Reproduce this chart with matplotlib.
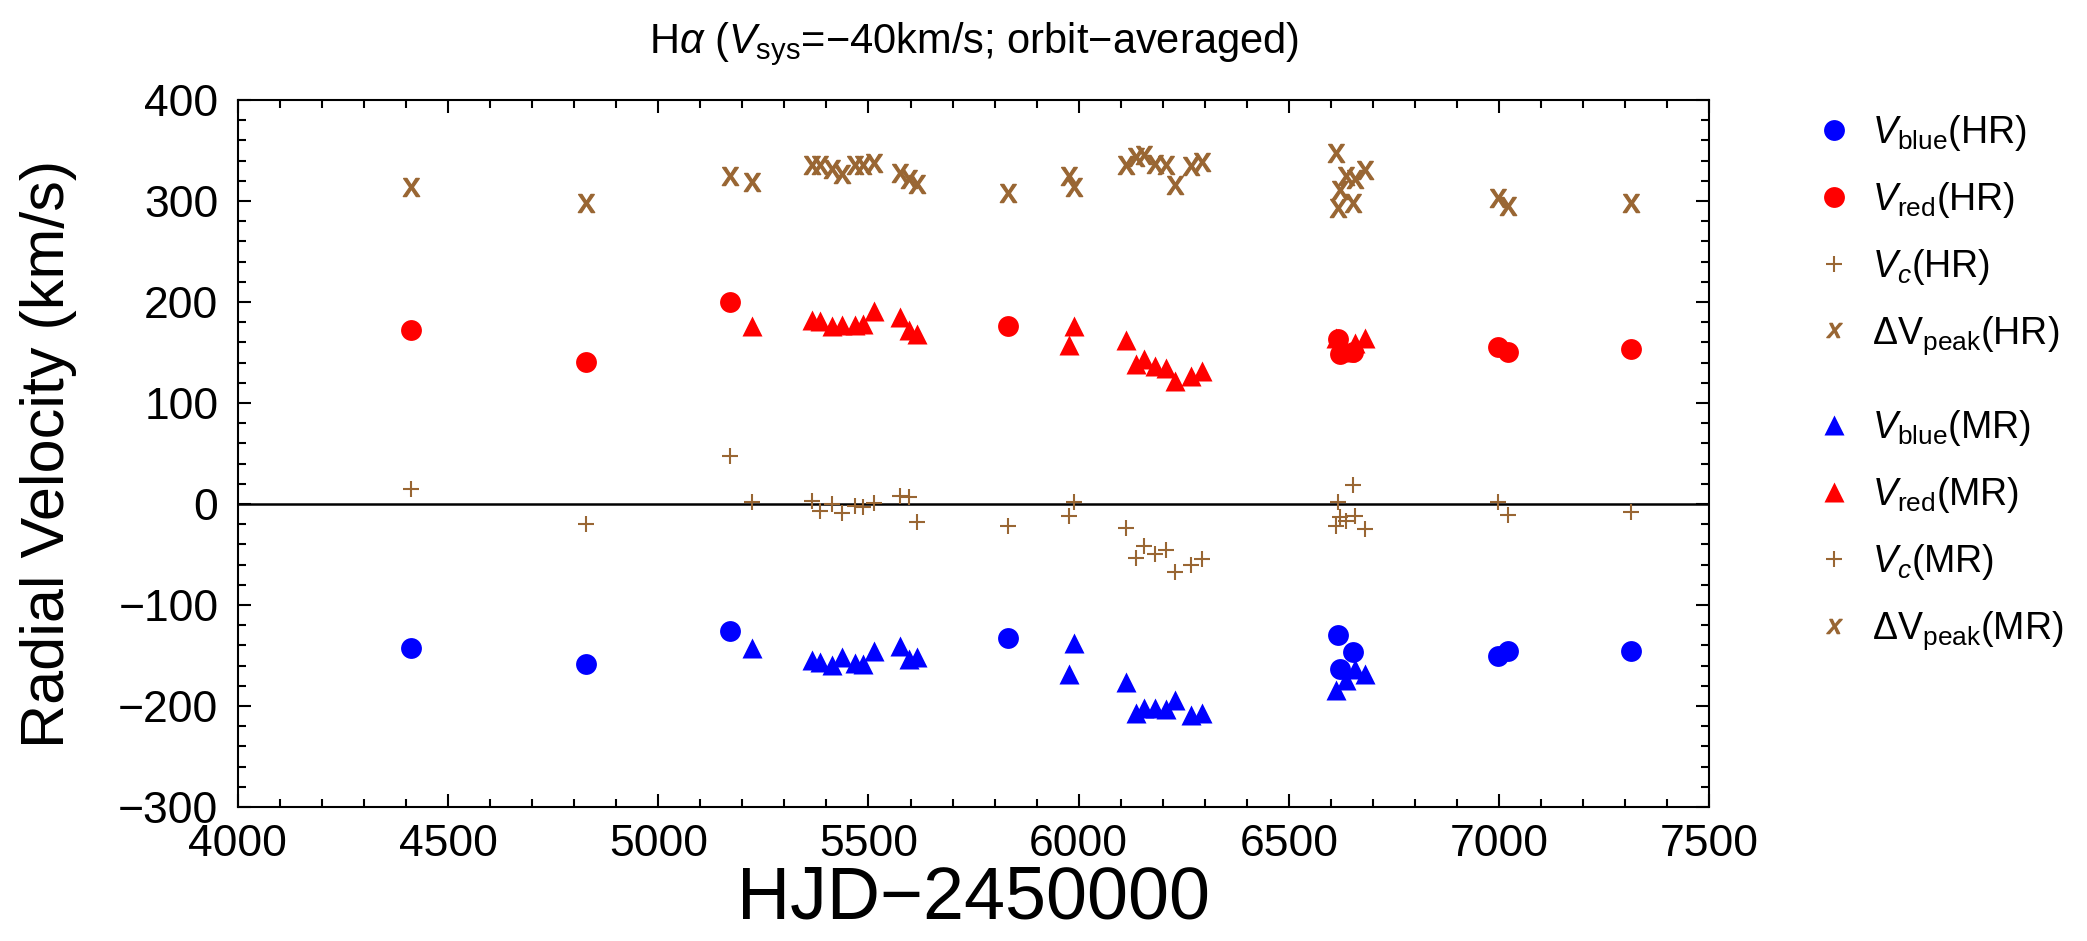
import matplotlib
matplotlib.use("Agg")
import matplotlib.pyplot as plt
from matplotlib.lines import Line2D
from matplotlib.ticker import MultipleLocator

plt.rcParams['font.family'] = ['Liberation Sans', 'DejaVu Sans']
plt.rcParams['mathtext.fontset'] = 'custom'
plt.rcParams['mathtext.rm'] = 'Liberation Sans'
plt.rcParams['mathtext.it'] = 'Liberation Sans:italic'
plt.rcParams['mathtext.bf'] = 'Liberation Sans:bold'

# HR spectra (circles)
jd_hr = [4411, 4828, 5170, 5832, 6617, 6621, 6653, 6997, 7021, 7315]
vblue_hr = [-143, -158, -126, -133, -130, -163, -147, -150, -146, -146]
vred_hr = [172, 141, 200, 176, 163, 149, 151, 155, 151, 153]
vc_hr = [15, -20, 48, -22, 2, -13, 19, 2, -11, -8]
dv_hr = [314, 298, 325, 308, 293, 311, 298, 303, 295, 298]

# MR spectra (triangles)
jd_mr = [5223, 5366, 5384, 5413, 5437, 5469, 5488, 5512, 5576, 5596, 5616,
         5977, 5989, 6112, 6136, 6156, 6181, 6208, 6230, 6267, 6293,
         6611, 6637, 6658, 6682]
vblue_mr = [-143, -154, -156, -159, -151, -157, -158, -146, -141, -153, -151,
            -168, -138, -176, -207, -202, -202, -203, -194, -209, -207,
            -184, -174, -163, -168]
vred_mr = [176, 182, 181, 176, 177, 177, 178, 191, 185, 172, 168,
           157, 176, 162, 139, 144, 137, 135, 122, 127, 132,
           164, 151, 159, 164]
vc_mr = [2, 3, -7, 0, -9, -2, -3, 1, 8, 7, -18,
         -12, 2, -24, -53, -42, -49, -46, -67, -60, -54,
         -22, -17, -12, -25]
dv_mr = [319, 336, 336, 332, 327, 336, 336, 338, 328, 322, 317,
         325, 314, 336, 344, 346, 337, 336, 316, 335, 339,
         348, 325, 322, 331]

BROWN = '#996633'
BLUE = '#0000ff'
RED = '#ff0000'

fig = plt.figure(figsize=(20.87, 9.41), dpi=100)
ax = fig.add_axes([0.114, 0.1424, 0.705, 0.7513])

ax.axhline(0, color='black', lw=1.8, zorder=1)

circ = dict(marker='o', ms=15, ls='none', mec='none')
tri = dict(marker='^', ms=15, ls='none', mec='none')
plus = dict(marker='+', ms=11, mew=1.5, ls='none', color=BROWN)
cross = dict(marker=r'$\mathrm{x}$', ms=13, ls='none', color=BROWN)

ax.plot(jd_hr, vblue_hr, color=BLUE, **circ)
ax.plot(jd_hr, vred_hr, color=RED, **circ)
ax.plot(jd_hr, vc_hr, **plus)
ax.plot(jd_hr, dv_hr, **cross)
ax.plot(jd_mr, vblue_mr, color=BLUE, **tri)
ax.plot(jd_mr, vred_mr, color=RED, **tri)
ax.plot(jd_mr, vc_mr, **plus)
ax.plot(jd_mr, dv_mr, **cross)

ax.set_xlim(4000, 7500)
ax.set_ylim(-300, 400)
ax.xaxis.set_major_locator(MultipleLocator(500))
ax.xaxis.set_minor_locator(MultipleLocator(100))
ax.yaxis.set_major_locator(MultipleLocator(100))
ax.yaxis.set_minor_locator(MultipleLocator(20))
ax.tick_params(which='both', direction='in', top=True, right=True, width=1.5,
               labelsize=32)
ax.tick_params(which='major', length=9.5)
ax.tick_params(which='minor', length=5.5)
ax.tick_params(axis='y', pad=14)
ax.tick_params(axis='x', pad=12)
for sp in ax.spines.values():
    sp.set_linewidth(1.5)

ax.set_xlabel('HJD\u22122450000', fontsize=53, labelpad=0)
ax.set_ylabel('Radial Velocity (km/s)', fontsize=44, labelpad=30)
ax.set_title('H$\\alpha$ ($V_{\\rm sys}$=\u221240km/s; orbit\u2212averaged)',
             fontsize=30, pad=34)


def entry(color, marker, ms, **kw):
    return Line2D([], [], ls='none', color=color, marker=marker, ms=ms,
                  mec=kw.pop('mec', 'none'), **kw)


hr_handles = [entry(BLUE, 'o', 15), entry(RED, 'o', 15),
              entry(BROWN, '+', 11, mec=BROWN, mew=1.5),
              entry(BROWN, r'$x$', 11, mec=BROWN)]
hr_labels = [r'$V_{\rm blue}$(HR)', r'$V_{\rm red}$(HR)', r'$V_c$(HR)',
             r'$\Delta\mathrm{V}_{\rm peak}$(HR)']
mr_handles = [entry(BLUE, '^', 15), entry(RED, '^', 15),
              entry(BROWN, '+', 11, mec=BROWN, mew=1.5),
              entry(BROWN, r'$x$', 11, mec=BROWN)]
mr_labels = [r'$V_{\rm blue}$(MR)', r'$V_{\rm red}$(MR)', r'$V_c$(MR)',
             r'$\Delta\mathrm{V}_{\rm peak}$(MR)']

leg_kw = dict(frameon=False, fontsize=27, handlelength=1.0, handletextpad=0.5,
              labelspacing=0.72, borderpad=0, borderaxespad=0,
              loc='upper left')
fig.legend(hr_handles, hr_labels, bbox_to_anchor=(0.870, 0.880), **leg_kw)
fig.legend(mr_handles, mr_labels, bbox_to_anchor=(0.870, 0.566), **leg_kw)

fig.savefig('out.png', dpi=100)
